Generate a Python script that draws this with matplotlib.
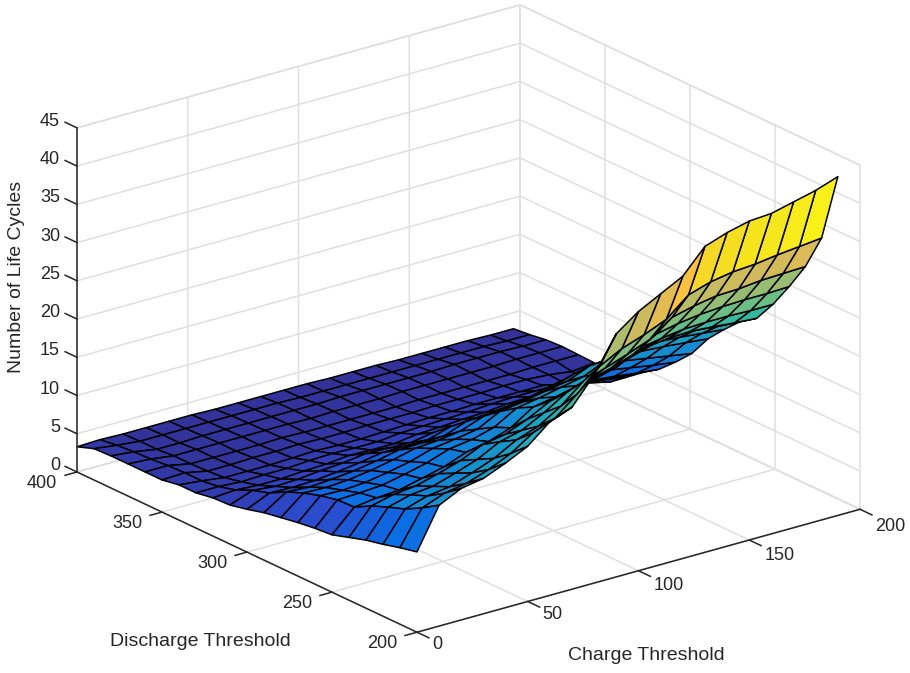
import matplotlib
matplotlib.use("Agg")
import numpy as np
import matplotlib.pyplot as plt
from matplotlib.colors import LinearSegmentedColormap, Normalize
from matplotlib.lines import Line2D
from mpl_toolkits.mplot3d import proj3d

plt.rcParams['font.family'] = ['Liberation Sans', 'DejaVu Sans']

charge = [0, 10, 20, 30, 40, 50, 60, 70, 80, 90, 100, 110, 120, 130, 140, 150, 160, 170, 180, 190]
discharge = [200, 210, 220, 230, 240, 250, 260, 270, 280, 290, 300, 310, 320, 330, 340, 350, 360, 370, 380, 390, 400]
cycles = [
 [10.5,10.0,9.4,8.9,8.2,7.5,7.3,7.0,6.6,6.2,5.6,5.1,5.0,4.6,4.6,4.2,4.2,4.2,4.2,4.1,3.3],
 [15.8,14.4,13.2,12.4,11.5,10.3,10.2,9.7,9.0,8.1,6.9,6.2,5.2,4.6,4.3,4.3,4.2,4.0,3.9,3.7,3.4],
 [17.2,15.5,14.1,13.2,12.2,10.7,10.3,9.6,8.9,7.9,6.8,5.9,5.0,4.4,3.9,3.7,3.6,3.6,3.4,3.4,3.3],
 [17.7,16.0,14.5,13.5,12.5,10.9,10.5,9.8,9.1,8.1,6.9,6.0,5.0,4.5,3.9,3.7,3.6,3.6,3.4,3.4,3.3],
 [18.9,17.0,15.5,14.4,13.3,11.6,11.1,10.3,9.5,8.4,7.2,6.3,5.2,4.5,3.9,3.8,3.6,3.6,3.5,3.4,3.3],
 [20.3,18.3,16.6,15.4,14.2,12.3,11.8,10.9,10.1,8.9,7.6,6.5,5.3,4.7,4.0,3.8,3.6,3.6,3.5,3.4,3.3],
 [22.7,20.2,18.2,16.9,15.5,13.4,12.8,11.8,10.8,9.5,8.1,6.9,5.6,4.8,4.1,3.9,3.7,3.6,3.5,3.4,3.2],
 [23.8,21.3,19.2,17.6,16.0,14.0,13.2,12.2,11.0,9.6,8.1,6.8,5.5,4.7,4.0,3.8,3.6,3.6,3.5,3.4,3.2],
 [27.2,23.7,21.0,19.1,17.2,15.0,14.0,12.7,11.4,9.7,8.1,6.7,5.5,4.7,4.0,3.8,3.6,3.5,3.5,3.4,3.2],
 [31.8,26.5,23.4,20.9,18.7,16.9,15.7,14.2,12.5,10.8,9.0,7.2,5.9,5.0,4.1,3.9,3.6,3.6,3.5,3.3,3.2],
 [33.9,28.0,24.4,21.7,19.2,17.4,16.2,14.6,12.8,11.0,9.1,7.3,6.0,5.1,4.2,3.9,3.6,3.6,3.6,3.3,3.2],
 [35.4,29.0,25.4,22.5,20.0,18.1,16.8,15.2,13.2,11.3,9.4,7.5,6.2,5.2,4.3,3.9,3.6,3.6,3.6,3.3,3.1],
 [36.9,30.2,26.5,23.5,20.8,18.8,17.4,15.7,13.7,11.7,9.7,7.7,6.3,5.3,4.3,4.0,3.7,3.7,3.6,3.3,3.1],
 [40.0,32.6,28.6,25.3,22.4,20.2,18.7,16.9,14.7,12.5,10.3,8.1,6.6,5.5,4.4,4.0,3.7,3.7,3.6,3.3,3.1],
 [41.0,33.5,29.3,25.9,22.9,20.6,19.1,17.2,15.0,12.7,10.5,8.2,6.7,5.6,4.4,4.0,3.7,3.7,3.6,3.3,3.0],
 [41.7,34.0,29.8,26.3,23.3,21.0,19.4,17.5,15.2,12.9,10.6,8.3,6.8,5.6,4.4,4.1,3.7,3.7,3.7,3.3,3.0],
 [41.9,34.2,29.9,26.5,23.4,21.1,19.5,17.6,15.3,13.0,10.7,8.3,6.8,5.6,4.4,4.1,3.7,3.7,3.7,3.3,3.0],
 [42.6,34.6,30.2,26.6,23.4,20.9,19.4,17.4,15.1,12.5,10.2,8.0,6.5,5.2,3.8,3.9,3.8,3.8,3.7,3.3,3.0],
 [43.3,34.9,30.3,26.6,23.3,20.6,19.1,17.1,14.8,12.0,9.7,7.6,6.1,4.6,3.1,3.5,3.8,3.8,3.6,3.2,2.9],
 [44.3,35.2,30.4,26.7,23.3,20.4,18.9,16.8,14.5,11.5,9.3,7.3,5.8,4.1,2.4,3.8,3.8,3.8,3.6,3.2,2.9],
]
x_ticks = [0, 50, 100, 150, 200]
y_ticks = [200, 250, 300, 350, 400]
z_ticks = [0, 5, 10, 15, 20, 25, 30, 35, 40, 45]

parula = LinearSegmentedColormap.from_list('parula_like', [
    (0.00, (.20, .17, .55)), (0.03, (.20, .21, .63)), (0.11, (.17, .29, .80)),
    (0.18, (.04, .43, .90)), (0.30, (.08, .55, .82)), (0.42, (.10, .68, .75)),
    (0.50, (.20, .73, .63)), (0.58, (.43, .75, .51)), (0.68, (.62, .74, .43)),
    (0.77, (.84, .73, .35)), (0.82, (.98, .75, .25)), (0.87, (.97, .82, .17)),
    (0.93, (.96, .88, .12)), (1.00, (.98, .98, .08))])

W, H = 910, 673
fig = plt.figure(figsize=(W / 100, H / 100), dpi=100, facecolor='white')
ax = fig.add_axes([0.0, 0.0, 1.0, 1.0], projection='3d', proj_type='ortho')
ax.view_init(elev=21.2, azim=-127.5)
ax.set_box_aspect((1, 1, 0.661))
ax.set_xlim(0, 200)
ax.set_ylim(200, 400)
ax.set_zlim(0, 45)
ax.patch.set_alpha(0)

Z = np.array(cycles)
C, D = np.meshgrid(charge, discharge, indexing='ij')
# the far side of the recorded mesh spreads slightly wider in charge
X = C * (1 + 0.037 * (D - 200) / 200)
norm = Normalize(Z.min(), Z.max())
ax.plot_surface(X, D, Z, rstride=1, cstride=1, facecolors=parula(norm(Z)),
                edgecolor='black', linewidth=1.1, shade=False, antialiased=True)

grid_c = '#dfdfdf'
dark = '#262626'
for axis in (ax.xaxis, ax.yaxis, ax.zaxis):
    axis.set_pane_color((1, 1, 1, 1))
    axis.pane.set_edgecolor(grid_c)
    axis.pane.set_linewidth(1.1)
    axis._axinfo['grid'].update(color=grid_c, linewidth=1.1)
    axis._axinfo['tick'].update(inward_factor=0.0, outward_factor=0.0, linewidth={True: 0.0, False: 0.0})
    axis.line.set_color(dark)
    axis.line.set_linewidth(1.1)
ax.zaxis.line.set_color((0, 0, 0, 0))
ax.set_xticks(x_ticks)
ax.set_yticks(y_ticks)
ax.set_zticks(z_ticks)
ax.set_xticklabels([''] * len(x_ticks))
ax.set_yticklabels([''] * len(y_ticks))
ax.set_zticklabels([''] * len(z_ticks))


def to_px(x, y, z):
    ax.apply_aspect()
    M = ax.get_proj()
    a, b, _ = proj3d.proj_transform(x, y, z, M)
    px = ax.transData.transform((a, b))
    return px[0], H - px[1]


# Fit the axes box so the floor corners land where the reference has them
lx, ly = to_px(0, 400, 0)
rx, ry = to_px(200, 200, 0)
s = (860 - 77) / (rx - lx)
pos = ax.get_position(original=True)
ax.set_position([0, 0, pos.width * s, pos.height * s])
lx, ly = to_px(0, 400, 0)
dx = 77 - lx
dy = 472 - ly
p = ax.get_position(original=True)
ax.set_position([p.x0 + dx / W, p.y0 - dy / H, p.width, p.height])


def seg(a, b):
    fig.add_artist(Line2D([a[0] / W, b[0] / W], [1 - a[1] / H, 1 - b[1] / H],
                          transform=fig.transFigure, color=dark, linewidth=1.1))


def label(xy, s, **kw):
    fig.text(xy[0] / W, 1 - xy[1] / H, s, fontsize=13, color=dark, **kw)


# Ticks and tick labels, placed through the axes' own projection
seg(to_px(0, 400, 0), to_px(0, 400, 45))
for t in x_ticks:
    a = to_px(t, 200, 0)
    seg(a, to_px(t, 193, 0))
    label((a[0] + 15, a[1] + 12 + 5 * t / 200), str(t), ha='left', va='center')
for t in y_ticks:
    a = to_px(0, t, 0)
    seg(a, to_px(-5.4, t, 0))
    label((a[0] - 35, a[1] + 11), str(t), ha='center', va='center')
for t in z_ticks:
    a = to_px(0, 400, t)
    seg(a, to_px(0, 407, t))
    label((a[0] - 17, a[1] - 6.5), str(t), ha='right', va='center')

fig.text(17 / W, 1 - 277 / H, 'Number of Life Cycles', rotation=90, ha='center', va='center', fontsize=14, color=dark)
fig.text(200 / W, 1 - 642 / H, 'Discharge Threshold', ha='center', va='center', fontsize=14, color=dark)
fig.text(646 / W, 1 - 655 / H, 'Charge Threshold', ha='center', va='center', fontsize=14, color=dark)

fig.savefig('out.png', dpi=100, facecolor='white')
